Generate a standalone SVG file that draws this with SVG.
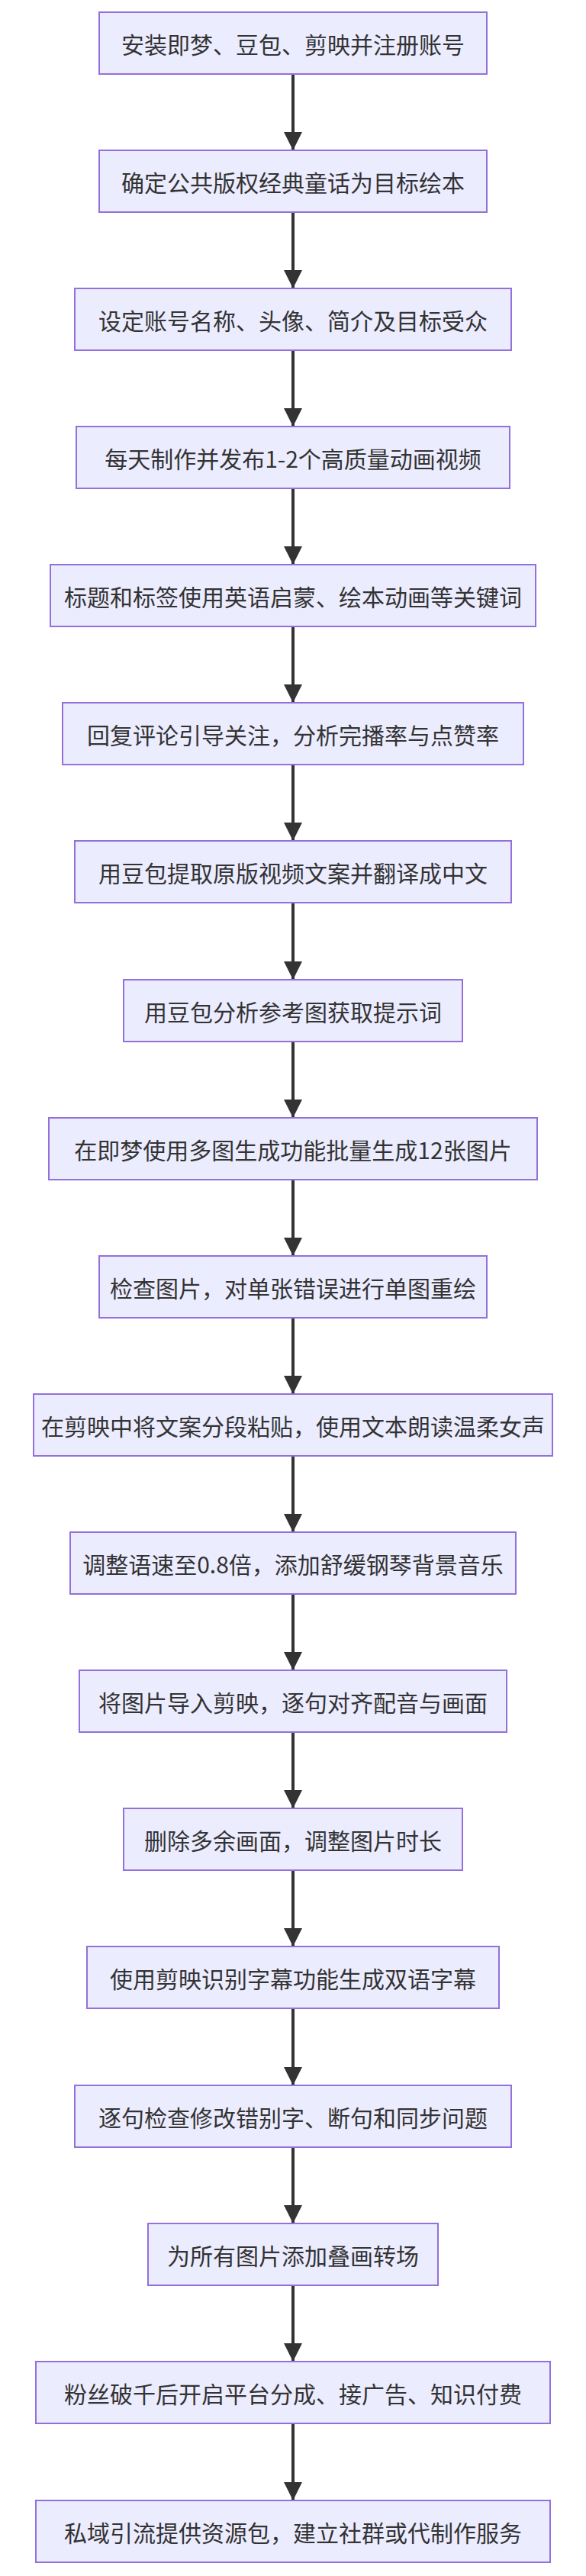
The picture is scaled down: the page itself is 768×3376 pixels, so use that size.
<svg xmlns="http://www.w3.org/2000/svg" width="768" height="3376" viewBox="0 0 768 3376">
<style>
.n rect{fill:#ECECFF;stroke:#9370DB;stroke-width:2}
.n text{font-family:"Noto Sans CJK SC","Noto Sans",sans-serif;font-size:30px;fill:#333;text-anchor:middle;dominant-baseline:central}
.e line{stroke:#333;stroke-width:4}
</style>
<defs><marker id="b" markerUnits="userSpaceOnUse" markerWidth="24" markerHeight="24" refX="24" refY="12" orient="auto" viewBox="0 0 24 24"><path d="M0,0 L24,12 L0,24 Z" fill="#333"/></marker></defs>
<g class="e">
<line x1="384" y1="97" x2="384" y2="197" marker-end="url(#b)"/>
<line x1="384" y1="278" x2="384" y2="378" marker-end="url(#b)"/>
<line x1="384" y1="459" x2="384" y2="559" marker-end="url(#b)"/>
<line x1="384" y1="640" x2="384" y2="740" marker-end="url(#b)"/>
<line x1="384" y1="821" x2="384" y2="921" marker-end="url(#b)"/>
<line x1="384" y1="1002" x2="384" y2="1102" marker-end="url(#b)"/>
<line x1="384" y1="1183" x2="384" y2="1284" marker-end="url(#b)"/>
<line x1="384" y1="1365" x2="384" y2="1465" marker-end="url(#b)"/>
<line x1="384" y1="1546" x2="384" y2="1646" marker-end="url(#b)"/>
<line x1="384" y1="1727" x2="384" y2="1827" marker-end="url(#b)"/>
<line x1="384" y1="1908" x2="384" y2="2008" marker-end="url(#b)"/>
<line x1="384" y1="2089" x2="384" y2="2189" marker-end="url(#b)"/>
<line x1="384" y1="2270" x2="384" y2="2370" marker-end="url(#b)"/>
<line x1="384" y1="2451" x2="384" y2="2551" marker-end="url(#b)"/>
<line x1="384" y1="2632" x2="384" y2="2733" marker-end="url(#b)"/>
<line x1="384" y1="2814" x2="384" y2="2914" marker-end="url(#b)"/>
<line x1="384" y1="2995" x2="384" y2="3095" marker-end="url(#b)"/>
<line x1="384" y1="3176" x2="384" y2="3277" marker-end="url(#b)"/>
</g>
<g class="n" id="n1"><rect x="130" y="16" width="508" height="81"/><text x="384" y="56.5">安装即梦、豆包、剪映并注册账号</text></g>
<g class="n" id="n2"><rect x="130" y="197" width="508" height="81"/><text x="384" y="237.5">确定公共版权经典童话为目标绘本</text></g>
<g class="n" id="n3"><rect x="98" y="378" width="572" height="81"/><text x="384" y="418.5">设定账号名称、头像、简介及目标受众</text></g>
<g class="n" id="n4"><rect x="100" y="559" width="568" height="81"/><text x="384" y="599.5">每天制作并发布1-2个高质量动画视频</text></g>
<g class="n" id="n5"><rect x="66" y="740" width="636" height="81"/><text x="384" y="780.5">标题和标签使用英语启蒙、绘本动画等关键词</text></g>
<g class="n" id="n6"><rect x="82" y="921" width="604" height="81"/><text x="384" y="961.5">回复评论引导关注，分析完播率与点赞率</text></g>
<g class="n" id="n7"><rect x="98" y="1102" width="572" height="81"/><text x="384" y="1142.5">用豆包提取原版视频文案并翻译成中文</text></g>
<g class="n" id="n8"><rect x="162" y="1284" width="444" height="81"/><text x="384" y="1324.5">用豆包分析参考图获取提示词</text></g>
<g class="n" id="n9"><rect x="64" y="1465" width="640" height="81"/><text x="384" y="1505.5">在即梦使用多图生成功能批量生成12张图片</text></g>
<g class="n" id="n10"><rect x="130" y="1646" width="508" height="81"/><text x="384" y="1686.5">检查图片，对单张错误进行单图重绘</text></g>
<g class="n" id="n11"><rect x="44" y="1827" width="680" height="81"/><text x="384" y="1867.5">在剪映中将文案分段粘贴，使用文本朗读温柔女声</text></g>
<g class="n" id="n12"><rect x="92" y="2008" width="584" height="81"/><text x="384" y="2048.5">调整语速至0.8倍，添加舒缓钢琴背景音乐</text></g>
<g class="n" id="n13"><rect x="104" y="2189" width="560" height="81"/><text x="384" y="2229.5">将图片导入剪映，逐句对齐配音与画面</text></g>
<g class="n" id="n14"><rect x="162" y="2370" width="444" height="81"/><text x="384" y="2410.5">删除多余画面，调整图片时长</text></g>
<g class="n" id="n15"><rect x="114" y="2551" width="540" height="81"/><text x="384" y="2591.5">使用剪映识别字幕功能生成双语字幕</text></g>
<g class="n" id="n16"><rect x="98" y="2733" width="572" height="81"/><text x="384" y="2773.5">逐句检查修改错别字、断句和同步问题</text></g>
<g class="n" id="n17"><rect x="194" y="2914" width="380" height="81"/><text x="384" y="2954.5">为所有图片添加叠画转场</text></g>
<g class="n" id="n18"><rect x="47" y="3095" width="674" height="81"/><text x="384" y="3135.5">粉丝破千后开启平台分成、接广告、知识付费</text></g>
<g class="n" id="n19"><rect x="47" y="3277" width="674" height="81"/><text x="384" y="3317.5">私域引流提供资源包，建立社群或代制作服务</text></g>
</svg>
